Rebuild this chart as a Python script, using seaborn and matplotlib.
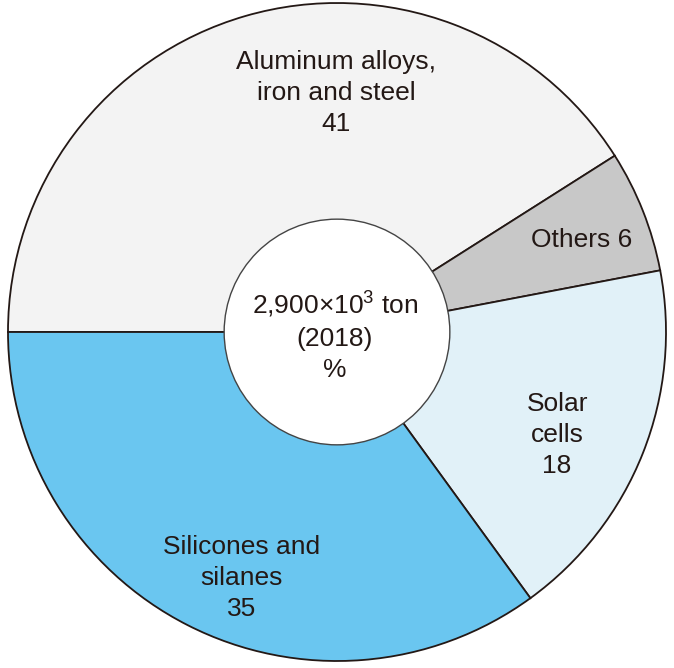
import matplotlib
matplotlib.use("Agg")
import matplotlib.pyplot as plt
import seaborn as sns

## Data
categories = ["Aluminum alloys,\niron and steel", "Others", "Solar\ncells", "Silicones and\nsilanes"]
shares = [41, 6, 18, 35]
colors = ["#f3f3f3", "#c8c8c8", "#e1f1f8", "#6ac6f0"]
center_text = "2,900×10$^{3}$ ton\n(2018)\n%"

sns.set_theme(style="white")
plt.rcParams['font.family'] = ['Liberation Sans', 'DejaVu Sans']
plt.rcParams['mathtext.fontset'] = 'custom'
plt.rcParams['mathtext.rm'] = 'Liberation Sans'
plt.rcParams['mathtext.it'] = 'Liberation Sans'
plt.rcParams['mathtext.default'] = 'rm'

fig = plt.figure(figsize=(6.74, 6.68), dpi=100)
ax = fig.add_axes([0, 0, 1, 1])

ink = "#231815"
ax.pie(shares, colors=colors, startangle=180, counterclock=False,
       radius=1.0, center=(0, 0),
       wedgeprops=dict(edgecolor=ink, linewidth=1.3))

# hole in the middle
hole = plt.Circle((0, 0), 0.343, facecolor="white", edgecolor="#444444", linewidth=1.0, zorder=3)
ax.add_patch(hole)

# label positions (pie units)
label_pos = [(-0.003, 0.726), (0.745, 0.280), (0.669, -0.313), (-0.289, -0.748)]
for name, val, (x, y) in zip(categories, shares, label_pos):
    if name == "Others":
        txt = f"{name} {val}"
    else:
        txt = f"{name}\n{val}"
    ax.text(x, y, txt, ha="center", va="center", fontsize=19, color=ink,
            linespacing=1.35, zorder=4)

ax.text(-0.006, -0.012, center_text, ha="center", va="center", fontsize=19,
        color=ink, linespacing=1.35, zorder=4)

ax.set_xlim(-337 / 329, 337 / 329)
ax.set_ylim(-336 / 329, 332 / 329)
ax.set_aspect("equal")
ax.axis("off")

plt.savefig("out.png", dpi=100)
